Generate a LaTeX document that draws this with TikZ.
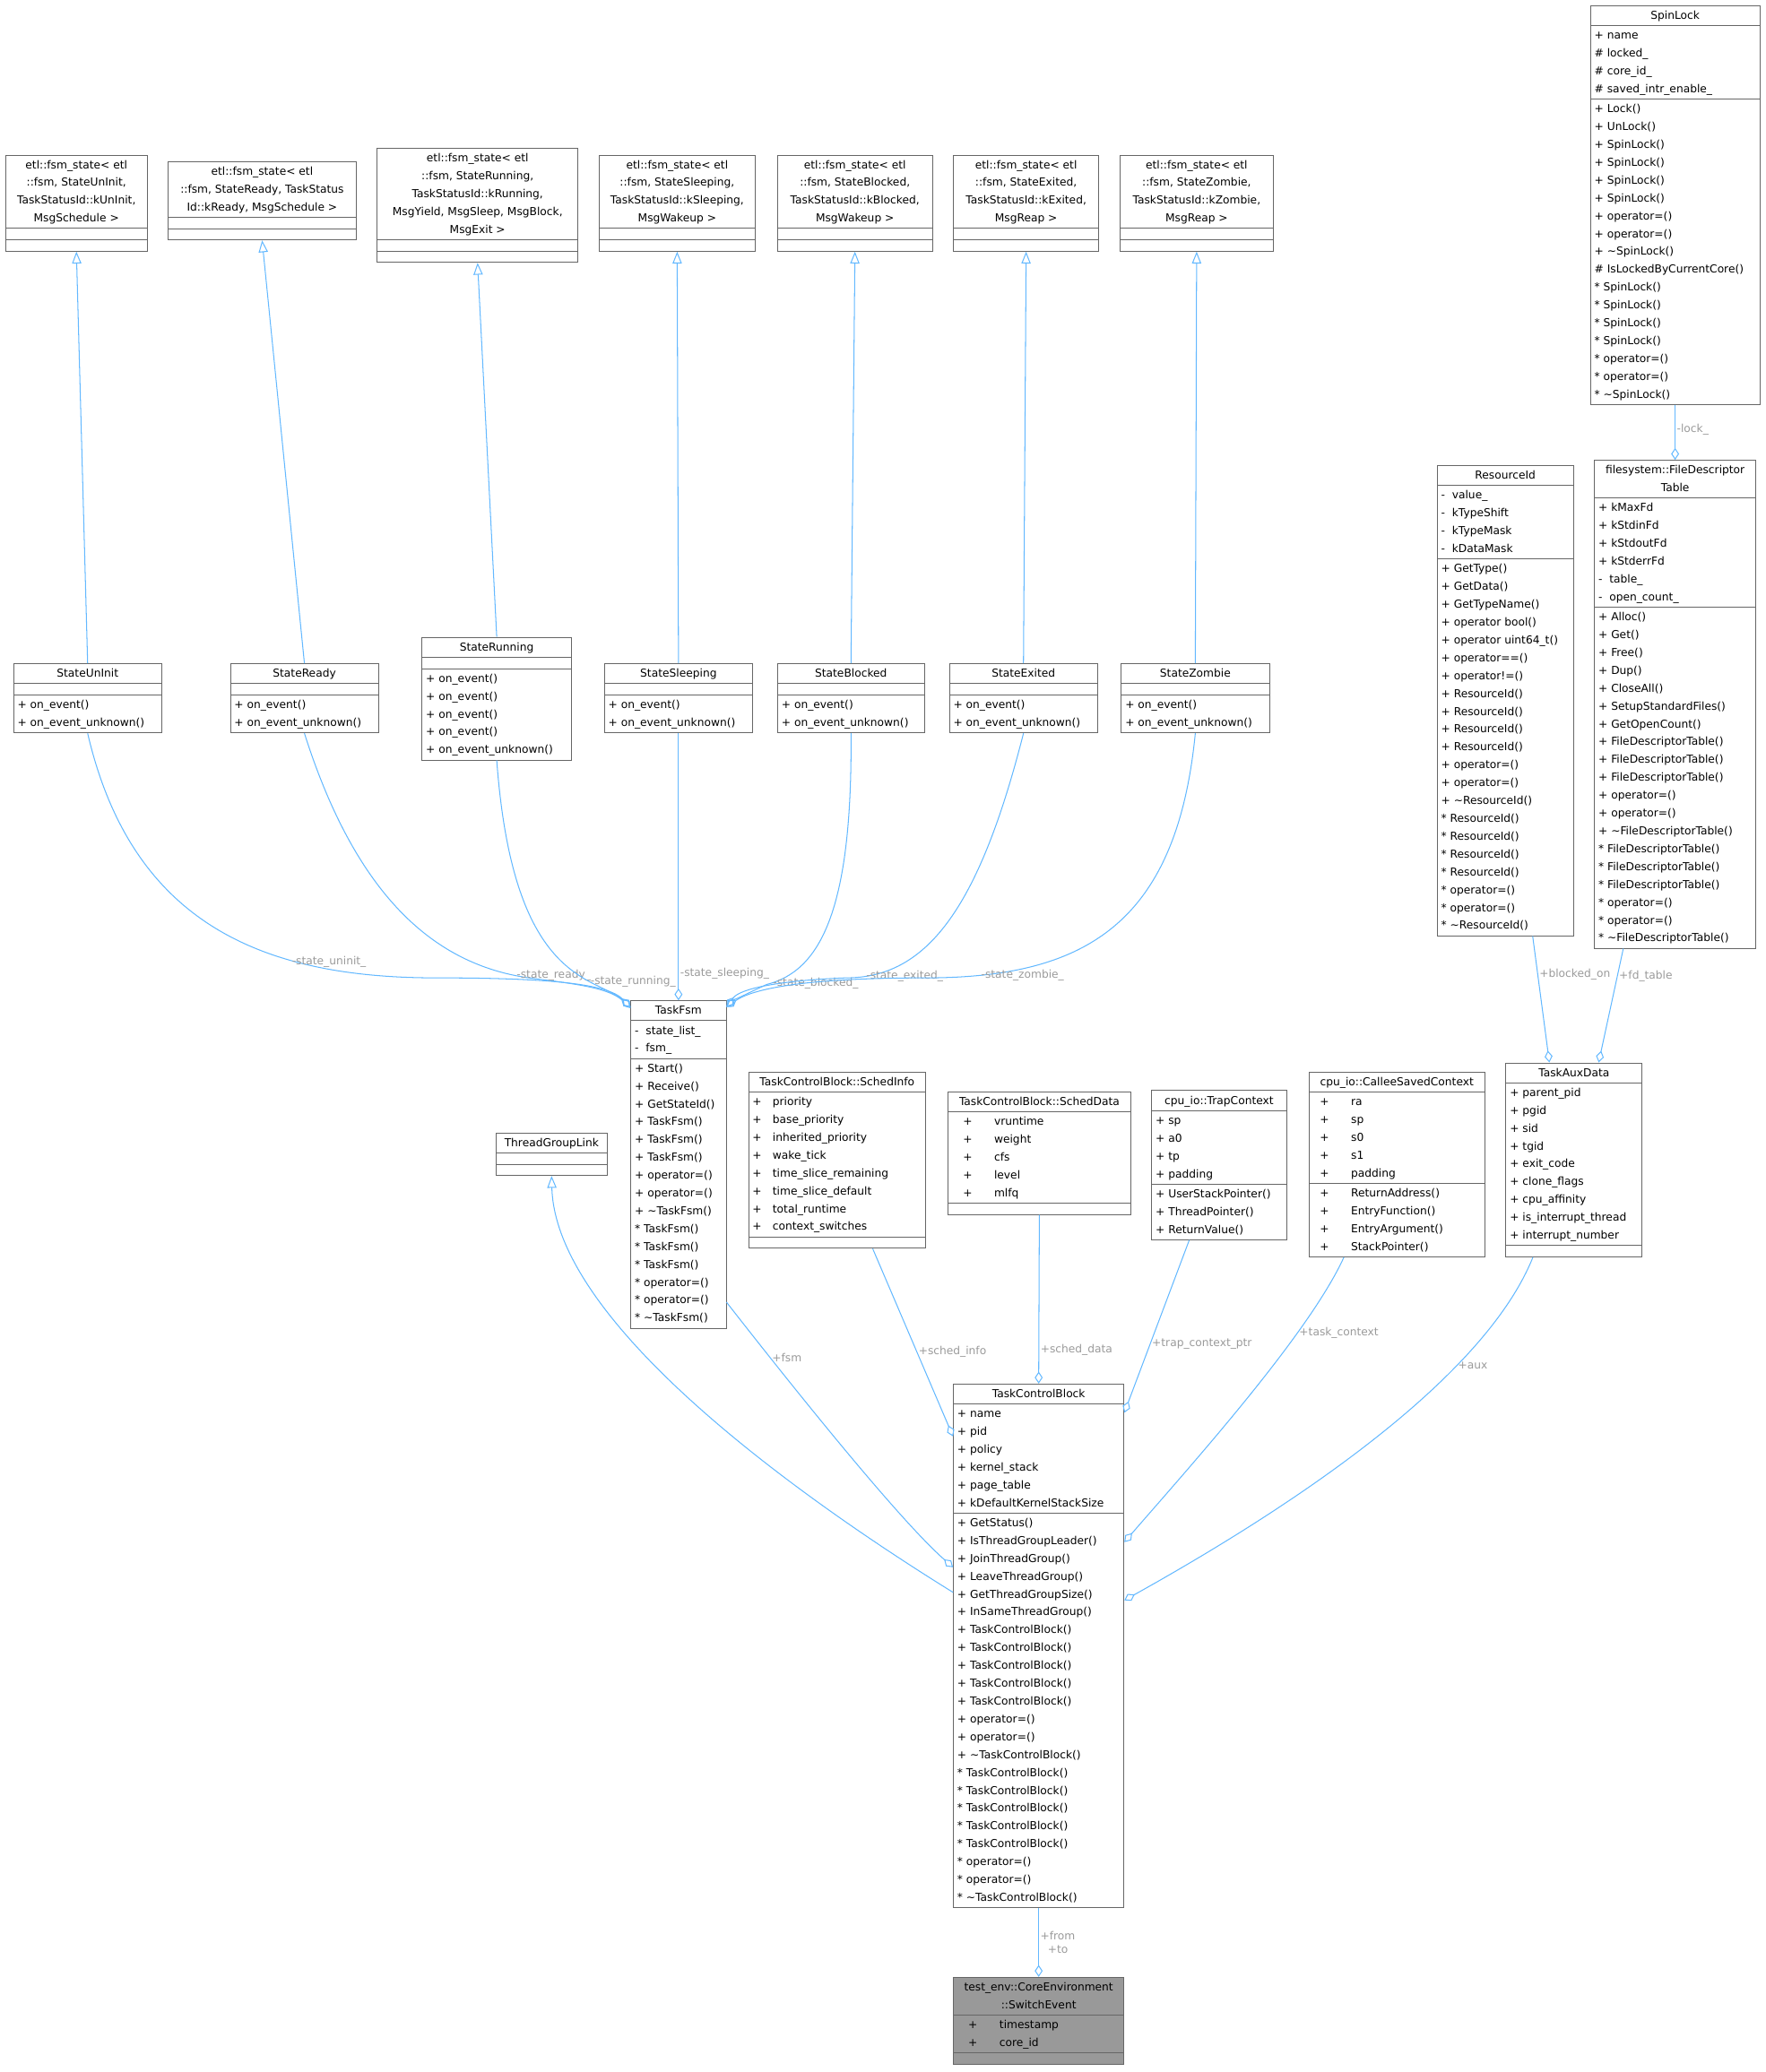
\documentclass[tikz,border=0pt]{standalone}
\usepackage{fontspec}
\setmainfont{DejaVu Sans}
\usetikzlibrary{shapes.multipart,arrows.meta,calc}
\definecolor{edge}{HTML}{63B8FF}
\definecolor{lbl}{HTML}{9A9A9A}
\definecolor{bord}{HTML}{666666}
\definecolor{hl}{HTML}{999999}
\newcommand\Lt[1]{\begin{tabular}{@{}l@{}}#1\end{tabular}}
\newcommand\Ct[1]{\begin{tabular}{@{}c@{}}#1\end{tabular}}
\newcommand\E{\rule{0pt}{7pt}}
\newcommand\T{\textasciitilde}
\newcommand\Sr{{*}}
\begin{document}
\begin{tikzpicture}[x=1pt,y=-1pt,
  font=\fontsize{8.3}{13.5}\selectfont,
  box/.style={draw=bord,line width=0.6pt,rectangle split,rectangle split parts=3,
    rectangle split part align={center,left,left},anchor=north west,
    inner xsep=3pt,inner ysep=0.5pt,fill=white},
  inh/.style={draw=edge,line width=0.7pt,-{Triangle[open,length=9pt,width=7pt]}},
  agg/.style={draw=edge,line width=0.7pt,-{Diamond[open,length=9pt,width=6pt]}},
  lab/.style={text=lbl,inner sep=1pt}]
\useasboundingbox (0,0) rectangle (1336,1568);
% templates
\node[box,minimum width=107] (t1) at (4,117) {\Ct{etl::fsm\_state< etl\\::fsm, StateUnInit,\\TaskStatusId::kUnInit,\\MsgSchedule >}\nodepart{two}\E\nodepart{three}\E};
\node[box,minimum width=142] (t2) at (127,122) {\Ct{etl::fsm\_state< etl\\::fsm, StateReady, TaskStatus\\Id::kReady, MsgSchedule >}\nodepart{two}\E\nodepart{three}\E};
\node[box,minimum width=152] (t3) at (285,112) {\Ct{etl::fsm\_state< etl\\::fsm, StateRunning,\\TaskStatusId::kRunning,\\MsgYield, MsgSleep, MsgBlock,\\MsgExit >}\nodepart{two}\E\nodepart{three}\E};
\node[box,minimum width=118] (t4) at (453,117) {\Ct{etl::fsm\_state< etl\\::fsm, StateSleeping,\\TaskStatusId::kSleeping,\\MsgWakeup >}\nodepart{two}\E\nodepart{three}\E};
\node[box,minimum width=117] (t5) at (588,117) {\Ct{etl::fsm\_state< etl\\::fsm, StateBlocked,\\TaskStatusId::kBlocked,\\MsgWakeup >}\nodepart{two}\E\nodepart{three}\E};
\node[box,minimum width=110] (t6) at (721,117) {\Ct{etl::fsm\_state< etl\\::fsm, StateExited,\\TaskStatusId::kExited,\\MsgReap >}\nodepart{two}\E\nodepart{three}\E};
\node[box,minimum width=116] (t7) at (847,117) {\Ct{etl::fsm\_state< etl\\::fsm, StateZombie,\\TaskStatusId::kZombie,\\MsgReap >}\nodepart{two}\E\nodepart{three}\E};
% states
\node[box,minimum width=112] (s1) at (10,502) {\Ct{StateUnInit}\nodepart{two}\E\nodepart{three}\Lt{+ on\_event()\\+ on\_event\_unknown()}};
\node[box,minimum width=112] (s2) at (174,502) {\Ct{StateReady}\nodepart{two}\E\nodepart{three}\Lt{+ on\_event()\\+ on\_event\_unknown()}};
\node[box,minimum width=113] (s3) at (319,482) {\Ct{StateRunning}\nodepart{two}\E\nodepart{three}\Lt{+ on\_event()\\+ on\_event()\\+ on\_event()\\+ on\_event()\\+ on\_event\_unknown()}};
\node[box,minimum width=112] (s4) at (457,502) {\Ct{StateSleeping}\nodepart{two}\E\nodepart{three}\Lt{+ on\_event()\\+ on\_event\_unknown()}};
\node[box,minimum width=111] (s5) at (588,502) {\Ct{StateBlocked}\nodepart{two}\E\nodepart{three}\Lt{+ on\_event()\\+ on\_event\_unknown()}};
\node[box,minimum width=112] (s6) at (718,502) {\Ct{StateExited}\nodepart{two}\E\nodepart{three}\Lt{+ on\_event()\\+ on\_event\_unknown()}};
\node[box,minimum width=112] (s7) at (848,502) {\Ct{StateZombie}\nodepart{two}\E\nodepart{three}\Lt{+ on\_event()\\+ on\_event\_unknown()}};
% right side
\node[box,minimum width=128] (spin) at (1203,4) {\Ct{SpinLock}\nodepart{two}\Lt{+ name\\\# locked\_\\\# core\_id\_\\\# saved\_intr\_enable\_}\nodepart{three}\Lt{+ Lock()\\+ UnLock()\\+ SpinLock()\\+ SpinLock()\\+ SpinLock()\\+ SpinLock()\\+ operator=()\\+ operator=()\\+ \T SpinLock()\\\# IsLockedByCurrentCore()\\\Sr\ SpinLock()\\\Sr\ SpinLock()\\\Sr\ SpinLock()\\\Sr\ SpinLock()\\\Sr\ operator=()\\\Sr\ operator=()\\\Sr\ \T SpinLock()}};
\node[box,minimum width=103] (rid) at (1087,352) {\Ct{ResourceId}\nodepart{two}\Lt{-\ \ value\_\\-\ \ kTypeShift\\-\ \ kTypeMask\\-\ \ kDataMask}\nodepart{three}\Lt{+ GetType()\\+ GetData()\\+ GetTypeName()\\+ operator bool()\\+ operator uint64\_t()\\+ operator==()\\+ operator!=()\\+ ResourceId()\\+ ResourceId()\\+ ResourceId()\\+ ResourceId()\\+ operator=()\\+ operator=()\\+ \T ResourceId()\\\Sr\ ResourceId()\\\Sr\ ResourceId()\\\Sr\ ResourceId()\\\Sr\ ResourceId()\\\Sr\ operator=()\\\Sr\ operator=()\\\Sr\ \T ResourceId()}};
\node[box,minimum width=122] (fdt) at (1206,348) {\Ct{filesystem::FileDescriptor\\Table}\nodepart{two}\Lt{+ kMaxFd\\+ kStdinFd\\+ kStdoutFd\\+ kStderrFd\\-\ \ table\_\\-\ \ open\_count\_}\nodepart{three}\Lt{+ Alloc()\\+ Get()\\+ Free()\\+ Dup()\\+ CloseAll()\\+ SetupStandardFiles()\\+ GetOpenCount()\\+ FileDescriptorTable()\\+ FileDescriptorTable()\\+ FileDescriptorTable()\\+ operator=()\\+ operator=()\\+ \T FileDescriptorTable()\\\Sr\ FileDescriptorTable()\\\Sr\ FileDescriptorTable()\\\Sr\ FileDescriptorTable()\\\Sr\ operator=()\\\Sr\ operator=()\\\Sr\ \T FileDescriptorTable()}};
% middle row
\node[box,minimum width=72] (fsm) at (477,757) {\Ct{TaskFsm}\nodepart{two}\Lt{-\ \ state\_list\_\\-\ \ fsm\_}\nodepart{three}\Lt{+ Start()\\+ Receive()\\+ GetStateId()\\+ TaskFsm()\\+ TaskFsm()\\+ TaskFsm()\\+ operator=()\\+ operator=()\\+ \T TaskFsm()\\\Sr\ TaskFsm()\\\Sr\ TaskFsm()\\\Sr\ TaskFsm()\\\Sr\ operator=()\\\Sr\ operator=()\\\Sr\ \T TaskFsm()}};
\node[box,minimum width=84] (tgl) at (375,857) {\Ct{ThreadGroupLink}\nodepart{two}\E\nodepart{three}\E};
\node[box,minimum width=134] (si) at (566,811) {\Ct{TaskControlBlock::SchedInfo}\nodepart{two}\Lt{+\quad priority\\+\quad base\_priority\\+\quad inherited\_priority\\+\quad wake\_tick\\+\quad time\_slice\_remaining\\+\quad time\_slice\_default\\+\quad total\_runtime\\+\quad context\_switches}\nodepart{three}\E};
\node[box,minimum width=138] (sd) at (717,826) {\Ct{TaskControlBlock::SchedData}\nodepart{two}\Lt{\quad+\qquad vruntime\\\quad+\qquad weight\\\quad+\qquad cfs\\\quad+\qquad level\\\quad+\qquad mlfq}\nodepart{three}\E};
\node[box,minimum width=102] (tc) at (871,825) {\Ct{cpu\_io::TrapContext}\nodepart{two}\Lt{+ sp\\+ a0\\+ tp\\+ padding}\nodepart{three}\Lt{+ UserStackPointer()\\+ ThreadPointer()\\+ ReturnValue()}};
\node[box,minimum width=133] (cs) at (990,811) {\Ct{cpu\_io::CalleeSavedContext}\nodepart{two}\Lt{\ \ +\qquad ra\\\ \ +\qquad sp\\\ \ +\qquad s0\\\ \ +\qquad s1\\\ \ +\qquad padding}\nodepart{three}\Lt{\ \ +\qquad ReturnAddress()\\\ \ +\qquad EntryFunction()\\\ \ +\qquad EntryArgument()\\\ \ +\qquad StackPointer()}};
\node[box,minimum width=103] (aux) at (1139,804) {\Ct{TaskAuxData}\nodepart{two}\Lt{+ parent\_pid\\+ pgid\\+ sid\\+ tgid\\+ exit\_code\\+ clone\_flags\\+ cpu\_affinity\\+ is\_interrupt\_thread\\+ interrupt\_number}\nodepart{three}\E};
\node[box,minimum width=129] (tcb) at (721,1047) {\Ct{TaskControlBlock}\nodepart{two}\Lt{+ name\\+ pid\\+ policy\\+ kernel\_stack\\+ page\_table\\+ kDefaultKernelStackSize}\nodepart{three}\Lt{+ GetStatus()\\+ IsThreadGroupLeader()\\+ JoinThreadGroup()\\+ LeaveThreadGroup()\\+ GetThreadGroupSize()\\+ InSameThreadGroup()\\+ TaskControlBlock()\\+ TaskControlBlock()\\+ TaskControlBlock()\\+ TaskControlBlock()\\+ TaskControlBlock()\\+ operator=()\\+ operator=()\\+ \T TaskControlBlock()\\\Sr\ TaskControlBlock()\\\Sr\ TaskControlBlock()\\\Sr\ TaskControlBlock()\\\Sr\ TaskControlBlock()\\\Sr\ TaskControlBlock()\\\Sr\ operator=()\\\Sr\ operator=()\\\Sr\ \T TaskControlBlock()}};
\node[box,minimum width=129,fill=hl] (sw) at (721,1496) {\Ct{test\_env::CoreEnvironment\\::SwitchEvent}\nodepart{two}\Lt{\quad+\qquad timestamp\\\quad+\qquad core\_id}\nodepart{three}\E};
% inheritance
\foreach \s/\t in {s1/t1,s2/t2,s3/t3,s4/t4,s5/t5,s6/t6,s7/t7} \draw[inh] (\s.north) -- (\t.south);
\draw[inh] ($(tcb.north west)+(0,158)$) .. controls (600,1130) and (420,1000) .. (tgl.south);
% state aggregation
\draw[agg] (s1.south) .. controls (100,700) and (200,740) .. node[lab,pos=0.78,above]{-state\_uninit\_} (330,740) .. controls (420,740) and (460,745) .. ($(fsm.north west)+(0,5)$);
\draw[agg] (s2.south) .. controls (270,680) and (330,730) .. node[lab,pos=0.95,right]{-state\_ready\_} (400,740) .. controls (440,745) and (460,748) .. ($(fsm.north west)+(0,5)$);
\draw[agg] (s3.south) .. controls (385,700) and (420,730) .. node[lab,pos=0.95,right]{-state\_running\_} (450,745) .. controls (465,752) and (472,757) .. ($(fsm.north west)+(0,6)$);
\draw[agg] (s4.south) -- node[lab,pos=0.9,right]{-state\_sleeping\_} (fsm.north);
\draw[agg] (s5.south) .. controls (645,690) and (620,735) .. node[lab,pos=0.97,right]{-state\_blocked\_} (580,745) .. controls (565,752) and (555,757) .. ($(fsm.north east)+(0,5)$);
\draw[agg] (s6.south) .. controls (740,690) and (700,740) .. node[lab,pos=0.92,right]{-state\_exited\_} (640,740) .. controls (590,742) and (560,748) .. ($(fsm.north east)+(0,5)$);
\draw[agg] (s7.south) .. controls (890,700) and (820,740) .. node[lab,pos=0.88,right]{-state\_zombie\_} (700,740) .. controls (610,740) and (570,748) .. ($(fsm.north east)+(0,5)$);
% right
\draw[agg] (spin.south) -- node[lab,right,pos=0.45]{-lock\_} (fdt.north);
\draw[agg] ($(rid.south west)!0.7!(rid.south east)$) -- node[lab,right,pos=0.3]{+blocked\_on} ($(aux.north west)!0.32!(aux.north east)$);
\draw[agg] ($(fdt.south west)!0.18!(fdt.south east)$) -- node[lab,right,pos=0.24]{+fd\_table} ($(aux.north west)!0.68!(aux.north east)$);
% to tcb
\draw[agg] ($(fsm.south east)+(0,-20)$) .. controls (600,1050) and (680,1150) .. node[lab,pos=0.2,right]{+fsm} ($(tcb.north west)+(0,139)$);
\draw[agg] ($(si.south west)!0.7!(si.south east)$) -- node[lab,pos=0.55,right]{+sched\_info} ($(tcb.north west)+(0,40)$);
\draw[agg] (sd.south) -- node[lab,pos=0.8,right]{+sched\_data} (tcb.north);
\draw[agg] ($(tc.south west)!0.28!(tc.south east)$) -- node[lab,pos=0.6,right]{+trap\_context\_ptr} ($(tcb.north east)+(0,22)$);
\draw[agg] ($(cs.south west)!0.2!(cs.south east)$) .. controls (990,1010) and (900,1110) .. node[lab,pos=0.28,right]{+task\_context} ($(tcb.north east)+(0,120)$);
\draw[agg] ($(aux.south west)!0.2!(aux.south east)$) .. controls (1120,1050) and (960,1150) .. node[lab,pos=0.28,right]{+aux} ($(tcb.north east)+(0,164)$);
\draw[agg] (tcb.south) -- node[lab,right,align=center,font=\fontsize{8.3}{10}\selectfont]{+from\\+to} (sw.north);
\end{tikzpicture}
\end{document}
